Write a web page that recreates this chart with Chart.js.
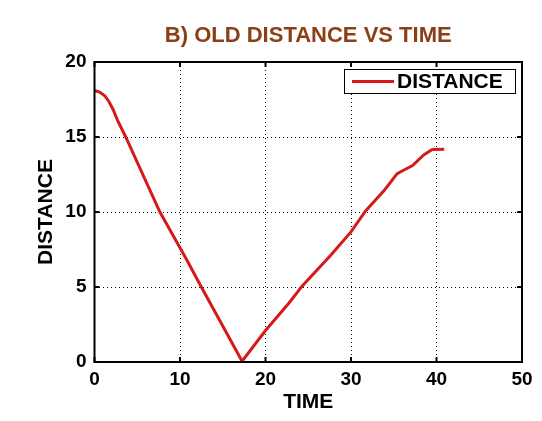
<!DOCTYPE html>
<html>
<head>
<meta charset="utf-8">
<script src="https://cdn.jsdelivr.net/npm/chart.js@4"></script>
<style>
  html, body { margin: 0; padding: 0; background: #fff; }
  #wrap { width: 542px; height: 421px; }
</style>
</head>
<body>
<div id="wrap"><canvas id="distChart" width="542" height="421"></canvas></div>
<script>
const chartTitle = 'B) OLD DISTANCE VS TIME';
const seriesLabel = 'DISTANCE';
const xTitle = 'TIME';
const yTitle = 'DISTANCE';

const timeValues = [0, 0.6, 1.2, 1.7, 2.2, 2.7, 3.65, 7.65, 10.8, 12.4, 17.26, 20.0, 22.7, 24.3, 25.65, 27.6, 30.0, 31.7, 33.9, 35.4, 36.2, 37.2, 38.5, 39.5, 40.9];
const distanceValues = [18.1, 18.0, 17.75, 17.35, 16.8, 16.1, 15.0, 10.0, 6.8, 5.1, 0.05, 2.1, 3.9, 5.07, 5.9, 7.1, 8.67, 10.07, 11.45, 12.56, 12.8, 13.1, 13.8, 14.16, 14.18];
const xTicks = [0, 10, 20, 30, 40, 50];
const yTicks = [0, 5, 10, 15, 20];

const FONT = "'Liberation Sans', Arial, sans-serif";
const RED = 'rgb(214, 26, 26)';

const points = timeValues.map((t, i) => ({ x: t, y: distanceValues[i] }));

// box, inward ticks, title and legend, matlab style
const matlabFrame = {
    id: 'matlabFrame',
    afterDraw(chart) {
        const ctx = chart.ctx;
        const a = chart.chartArea;
        const xs = chart.scales.x, ys = chart.scales.y;
        ctx.save();
        ctx.strokeStyle = '#000';
        ctx.lineWidth = 2;
        ctx.strokeRect(a.left, a.top, a.right - a.left, a.bottom - a.top);

        ctx.beginPath();
        xTicks.forEach(v => {
            const px = xs.getPixelForValue(v);
            ctx.moveTo(px, a.bottom); ctx.lineTo(px, a.bottom - 5);
            ctx.moveTo(px, a.top); ctx.lineTo(px, a.top + 5);
        });
        yTicks.forEach(v => {
            const py = ys.getPixelForValue(v);
            ctx.moveTo(a.left, py); ctx.lineTo(a.left + 5, py);
            ctx.moveTo(a.right, py); ctx.lineTo(a.right - 5, py);
        });
        ctx.stroke();

        // title
        ctx.fillStyle = 'rgb(140, 62, 20)';
        ctx.font = 'bold 22px ' + FONT;
        ctx.textAlign = 'center';
        ctx.textBaseline = 'middle';
        ctx.fillText(chartTitle, (a.left + a.right) / 2, 36);

        // legend
        const lx = 344, ly = 69, lw = 171, lh = 24;
        ctx.fillStyle = '#fff';
        ctx.fillRect(lx, ly, lw, lh);
        ctx.lineWidth = 1;
        ctx.strokeStyle = '#000';
        ctx.strokeRect(lx + 0.5, ly + 0.5, lw, lh);
        ctx.strokeStyle = RED;
        ctx.lineWidth = 3;
        ctx.beginPath();
        ctx.moveTo(352, 81.5); ctx.lineTo(394, 81.5);
        ctx.stroke();
        ctx.fillStyle = '#000';
        ctx.font = 'bold 21px ' + FONT;
        ctx.textAlign = 'left';
        ctx.fillText(chart.data.datasets[0].label, 397, 82);
        ctx.restore();
    }
};

new Chart(document.getElementById('distChart'), {
    type: 'line',
    data: {
        datasets: [{
            label: seriesLabel,
            data: points,
            borderColor: RED,
            backgroundColor: RED,
            borderWidth: 3,
            pointRadius: 0,
            tension: 0,
            fill: false
        }]
    },
    options: {
        responsive: false,
        animation: false,
        layout: { padding: { left: 0, right: 20, top: 62, bottom: 0 } },
        plugins: {
            legend: { display: false },
            title: { display: false },
            tooltip: { enabled: false }
        },
        scales: {
            x: {
                type: 'linear',
                min: 0,
                max: 50,
                afterFit: s => { s.height = 59; },
                afterBuildTicks: s => { s.ticks = xTicks.map(v => ({ value: v })); },
                border: { display: false, dash: [1, 3] },
                grid: {
                    color: '#000',
                    lineWidth: 1,
                    drawTicks: false
                },
                ticks: {
                    color: '#000',
                    padding: 6,
                    maxRotation: 0,
                    font: { family: FONT, size: 19, weight: 'bold' }
                },
                title: {
                    display: true,
                    text: xTitle,
                    color: '#000',
                    padding: { top: 0, bottom: 6 },
                    font: { family: FONT, size: 21, weight: 'bold' }
                }
            },
            y: {
                min: 0,
                max: 20,
                afterFit: s => { s.width = 94.5; },
                afterBuildTicks: s => { s.ticks = yTicks.map(v => ({ value: v })); },
                border: { display: false, dash: [1, 3] },
                grid: {
                    color: '#000',
                    lineWidth: 1,
                    drawTicks: false
                },
                ticks: {
                    color: '#000',
                    padding: 8,
                    font: { family: FONT, size: 19, weight: 'bold' }
                },
                title: {
                    display: true,
                    text: yTitle,
                    color: '#000',
                    padding: { top: 34, bottom: 0 },
                    font: { family: FONT, size: 21, weight: 'bold' }
                }
            }
        }
    },
    plugins: [matlabFrame]
});
</script>
</body>
</html>
